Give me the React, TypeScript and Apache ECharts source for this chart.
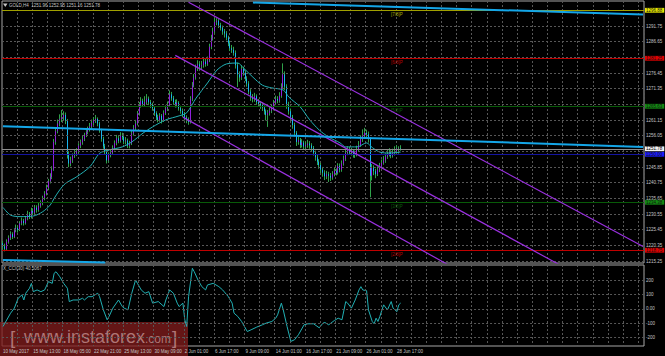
import React, { useEffect, useRef } from "react";
import * as echarts from "echarts";

const SLOTS = 339;
const timeLabels = ["10 May 2017", "15 May 13:00", "18 May 05:00", "22 May 21:00", "25 May 13:00", "30 May 09:00", "2 Jun 01:00", "6 Jun 17:00", "9 Jun 09:00", "14 Jun 01:00", "16 Jun 17:00", "21 Jun 09:00", "26 Jun 01:00", "28 Jun 17:00"];
const LABEL_STEP = 16;

const firstOpen = 1221.0;
const closes = [
  1220.0, 1219.2, 1221.5, 1222.8, 1224.0, 1223.1, 1225.2, 1226.0, 1225.4, 1227.5,
  1228.3, 1227.6, 1229.0, 1230.4, 1229.8, 1231.5, 1231.0, 1232.6, 1231.9, 1233.2,
  1234.0, 1235.8, 1237.1, 1239.0, 1241.2, 1242.6, 1245.0, 1254.0, 1257.5, 1260.0,
  1261.4, 1262.0, 1262.8, 1261.0, 1250.0, 1247.0, 1248.0, 1249.5, 1250.2, 1251.0,
  1252.8, 1253.9, 1255.0, 1256.2, 1257.3, 1258.1, 1259.0, 1260.2, 1261.0, 1261.5,
  1260.0, 1257.8, 1255.0, 1252.6, 1251.0, 1248.0, 1249.8, 1250.5, 1252.0, 1253.6,
  1255.2, 1254.4, 1256.0, 1255.6, 1254.2, 1254.5, 1252.8, 1253.5, 1256.8, 1258.6,
  1260.0, 1263.2, 1266.0, 1267.4, 1266.2, 1267.0, 1268.1, 1266.9, 1266.0, 1265.0,
  1263.4, 1262.0, 1261.2, 1262.5, 1261.0, 1263.4, 1264.8, 1266.0, 1269.5, 1268.2,
  1267.0, 1266.0, 1266.8, 1265.0, 1264.1, 1263.0, 1262.0, 1261.2, 1260.5, 1268.0,
  1272.4, 1275.0, 1278.0, 1279.3, 1278.6, 1279.0, 1280.2, 1279.4, 1280.5, 1285.0,
  1287.8, 1290.0, 1293.0, 1293.5, 1292.0, 1291.2, 1290.0, 1289.3, 1288.0, 1286.1,
  1284.5, 1284.0, 1283.0, 1279.0, 1276.0, 1275.0, 1277.8, 1276.5, 1274.6, 1273.0,
  1270.4, 1268.5, 1268.0, 1268.9, 1267.0, 1266.4, 1266.0, 1265.2, 1264.0, 1262.8,
  1263.5, 1264.2, 1265.0, 1266.8, 1268.0, 1267.5, 1269.0, 1272.0, 1276.0, 1272.0,
  1266.0, 1264.0, 1262.0, 1259.5, 1257.0, 1254.0, 1254.6, 1253.0, 1253.8, 1252.5,
  1253.0, 1253.5, 1252.9, 1252.0, 1250.5, 1249.0, 1247.6, 1246.5, 1245.0, 1244.0,
  1242.8, 1243.5, 1243.0, 1242.4, 1243.5, 1244.6, 1244.0, 1246.2, 1245.0, 1247.0,
  1248.5, 1250.4, 1251.5, 1250.6, 1251.0, 1249.8, 1250.0, 1251.6, 1253.0, 1254.8,
  1256.0, 1257.0, 1256.5, 1255.0, 1243.0, 1245.6, 1244.5, 1243.5, 1245.0, 1246.0,
  1247.2, 1248.0, 1249.2, 1250.0, 1250.6, 1249.5, 1250.4, 1251.0, 1251.9, 1251.96,
  1251.78,
];
const highs = [
  1221.8, 1220.9, 1222.3, 1223.6, 1224.9, 1224.6, 1225.9, 1227.1, 1226.8, 1228.2,
  1229.4, 1229.0, 1229.9, 1231.6, 1231.2, 1232.6, 1232.4, 1233.5, 1233.4, 1234.1,
  1235.0, 1236.5, 1238.0, 1240.1, 1242.0, 1243.8, 1246.1, 1255.0, 1258.6, 1261.3,
  1263.0, 1264.4, 1264.0, 1263.6, 1261.5, 1251.0, 1249.2, 1250.3, 1251.4, 1252.0,
  1253.6, 1254.8, 1256.2, 1257.0, 1258.4, 1259.0, 1260.2, 1261.3, 1262.1, 1262.8,
  1262.0, 1260.6, 1258.3, 1255.7, 1253.4, 1251.8, 1250.6, 1251.7, 1252.9, 1254.5,
  1256.3, 1256.0, 1257.2, 1257.0, 1256.3, 1255.6, 1255.1, 1254.4, 1257.6, 1259.5,
  1261.2, 1264.1, 1267.0, 1268.6, 1268.1, 1268.9, 1269.6, 1268.8, 1267.7, 1266.8,
  1265.6, 1264.0, 1262.9, 1263.4, 1263.1, 1264.3, 1265.9, 1267.2, 1270.8, 1270.3,
  1269.0, 1267.8, 1267.9, 1267.3, 1265.8, 1264.9, 1263.8, 1262.7, 1262.0, 1268.9,
  1273.5, 1276.1, 1279.2, 1280.6, 1280.2, 1280.4, 1281.3, 1281.0, 1281.8, 1286.0,
  1288.9, 1291.2, 1294.4, 1294.3, 1294.0, 1292.8, 1291.9, 1290.8, 1290.1, 1288.6,
  1287.0, 1285.6, 1285.0, 1283.8, 1279.8, 1277.0, 1278.9, 1278.5, 1277.3, 1275.4,
  1273.8, 1271.2, 1269.6, 1270.0, 1269.5, 1268.0, 1267.3, 1266.9, 1265.9, 1264.6,
  1264.4, 1265.3, 1266.1, 1267.7, 1269.1, 1268.9, 1270.2, 1273.1, 1279.6, 1277.0,
  1272.8, 1267.1, 1264.9, 1262.8, 1260.3, 1257.6, 1255.8, 1255.3, 1254.9, 1254.4,
  1254.0, 1254.7, 1254.3, 1253.6, 1252.7, 1251.2, 1249.8, 1248.4, 1247.2, 1245.9,
  1244.8, 1244.6, 1244.3, 1243.9, 1244.5, 1245.7, 1245.4, 1247.1, 1247.0, 1248.0,
  1249.6, 1251.5, 1252.6, 1252.4, 1252.1, 1251.7, 1251.2, 1252.8, 1254.3, 1256.2,
  1258.1, 1258.6, 1258.0, 1257.4, 1255.6, 1246.8, 1246.4, 1245.3, 1246.1, 1247.2,
  1248.3, 1249.4, 1250.3, 1251.4, 1252.0, 1251.3, 1251.8, 1252.6, 1253.0, 1252.6,
  1252.95,
];
const lows = [
  1218.9, 1218.4, 1218.8, 1220.9, 1222.1, 1222.4, 1222.7, 1224.6, 1224.5, 1225.0,
  1226.9, 1226.8, 1227.1, 1228.5, 1228.9, 1229.1, 1230.2, 1230.4, 1231.0, 1231.3,
  1232.6, 1233.4, 1235.0, 1236.6, 1238.3, 1240.5, 1241.9, 1244.6, 1253.1, 1256.8,
  1259.1, 1260.5, 1261.1, 1259.8, 1248.6, 1245.8, 1246.1, 1247.2, 1248.8, 1249.4,
  1250.3, 1252.0, 1253.1, 1254.3, 1255.6, 1256.5, 1257.4, 1258.3, 1259.5, 1260.2,
  1259.1, 1257.0, 1254.1, 1251.8, 1249.9, 1247.0, 1247.3, 1249.0, 1249.8, 1251.3,
  1252.9, 1253.6, 1253.8, 1254.7, 1253.3, 1253.2, 1252.0, 1251.9, 1253.0, 1256.1,
  1257.9, 1259.4, 1262.6, 1265.2, 1265.4, 1265.5, 1266.3, 1266.0, 1265.1, 1264.2,
  1262.5, 1261.1, 1260.4, 1260.6, 1260.0, 1260.5, 1262.8, 1264.1, 1265.6, 1267.4,
  1266.1, 1265.2, 1265.3, 1264.2, 1263.2, 1262.1, 1261.0, 1260.1, 1259.6, 1260.0,
  1267.3, 1271.8, 1274.3, 1277.1, 1277.4, 1277.6, 1278.2, 1278.5, 1278.8, 1280.0,
  1284.2, 1287.0, 1289.3, 1292.0, 1291.1, 1290.3, 1288.9, 1288.0, 1287.1, 1285.2,
  1283.6, 1283.0, 1282.1, 1277.9, 1271.9, 1273.6, 1274.2, 1275.6, 1273.8, 1272.0,
  1269.5, 1267.4, 1266.9, 1267.1, 1266.1, 1265.4, 1264.8, 1264.1, 1262.9, 1261.0,
  1258.9, 1262.6, 1263.4, 1264.3, 1266.0, 1266.6, 1266.8, 1268.4, 1271.3, 1270.9,
  1264.8, 1262.9, 1260.7, 1258.3, 1255.8, 1252.7, 1253.1, 1252.0, 1252.2, 1251.4,
  1251.6, 1252.1, 1251.8, 1250.9, 1249.6, 1247.9, 1246.5, 1245.3, 1243.9, 1242.7,
  1241.6, 1241.9, 1241.0, 1241.3, 1241.7, 1242.8, 1243.1, 1243.4, 1244.1, 1244.3,
  1246.3, 1247.8, 1249.7, 1249.8, 1249.6, 1248.9, 1248.8, 1249.3, 1250.9, 1252.4,
  1254.0, 1255.1, 1255.4, 1253.8, 1236.0, 1241.5, 1243.2, 1242.2, 1242.9, 1244.2,
  1245.4, 1246.6, 1247.2, 1248.5, 1249.3, 1248.7, 1248.9, 1249.6, 1250.3, 1250.2,
  1251.16,
];

// moving average, read at bar indices
const maPoints = [
  [0, 1232.7], [4, 1230.2], [9, 1229.7], [16, 1229.9], [21, 1231.3], [25, 1233.5], [27, 1235.6], [30, 1238.4],
  [33, 1240.5], [39, 1242.7], [46, 1246.0], [51, 1250.3], [56, 1251.4], [63, 1252.4], [68, 1254.0], [74, 1256.9],
  [79, 1258.9], [86, 1261.2], [93, 1262.5], [97, 1263.5], [102, 1268.3], [108, 1273.2], [113, 1277.4], [118, 1279.4],
  [124, 1279.7], [127, 1278.1], [132, 1275.1], [137, 1272.5], [142, 1271.6], [148, 1270.9], [151, 1268.6], [157, 1265.4],
  [162, 1261.2], [167, 1257.9], [172, 1255.6], [178, 1253.7], [181, 1252.4], [187, 1252.4], [192, 1253.7], [195, 1252.2],
  [199, 1250.7], [204, 1250.4], [210, 1250.7],
];

// CCI(30), read at bar indices
const cciPoints = [
  [0, -123], [4, -30], [6, 5], [8, 74], [10, 97], [11, 62], [12, 109], [14, 144], [15, 178], [16, 120],
  [18, 132], [20, 120], [22, 132], [24, 190], [26, 178], [27, 248], [28, 259], [30, 224], [32, 178], [34, 144],
  [35, 51], [37, 62], [40, 62], [42, 74], [43, 62], [45, 85], [47, 85], [50, 109], [51, 85], [53, -7],
  [55, -76], [56, -53], [58, 5], [61, 62], [63, 16], [64, 5], [66, -7], [68, 109], [70, 201], [71, 178],
  [73, 132], [75, 109], [77, 120], [79, 40], [82, 51], [85, 16], [86, 62], [88, 132], [90, 109], [92, 40],
  [93, 16], [95, 40], [96, -76], [97, -123], [98, 85], [100, 283], [101, 259], [103, 201], [105, 155], [107, 132],
  [108, 167], [111, 178], [114, 155], [116, 132], [119, 85], [121, 40], [122, -30], [124, -53], [126, -88], [129, -158],
  [131, -146], [134, -127], [137, -111], [139, -99], [142, -88], [144, -65], [145, -42], [147, 40], [148, -7], [150, -123],
  [152, -227], [154, -215], [156, -181], [159, -111], [161, -104], [164, -104], [167, -132], [169, -99], [170, -95], [172, -111],
  [175, -81], [177, -65], [179, -76], [181, 51], [182, 40], [184, 5], [186, 62], [188, 132], [189, 155], [190, 132],
  [192, 127], [193, -7], [195, -88], [196, -104], [197, -65], [198, -88], [199, -53], [201, 28], [203, -7], [205, 51],
  [206, 5], [208, -19], [209, 28], [210, 40.5067],
];

const priceTicks = [1291.75, 1286.65, 1281.55, 1276.45, 1271.35, 1266.25, 1261.15, 1256.05, 1250.95, 1245.85, 1240.75, 1235.65, 1230.55, 1225.45, 1220.35, 1215.25];
// tick labels that sit under a level's price box in the reference
const coveredTickLabels = [1281.55, 1266.25, 1250.95];
const cciGridValues = [200, 100, 0, -100, -200];
const cciLabelValues = [305.9866, 250, 200, 100, 0, -100, -200, -258.9603];
const cciLabelTexts = ["305.9866", "250", "200", "100", "0.00", "-100", "-200", "-258.9603"];

const levelValues = [1296.875, 1281.25, 1265.625, 1250.0, 1234.375, 1218.75];
const levelLineColors = ["#a0a000", "#c00000", "#085a08", "#1414a0", "#085a08", "#c00000"];
const levelBoxColors = ["#e8e800", "#e00000", "#128a12", "#1c1cff", "#128a12", "#e00000"];
const levelTags = ["[7/8]P", "[6/8]P", "[5/8]P", "", "[3/8]P", "[2/8]P"];
const levelTagColors = ["#a8a800", "#b80000", "#0a5a0a", "#1616a8", "#0a5a0a", "#b80000"];
const TAG_BAR = 208;
const lastPrice = 1251.78;

// trend lines: [barIndex, price] end points
const channelUpper = [[98, 1299.5], [338, 1220.0]];
const channelMiddle = [[91, 1282.2], [338, 1199.2]];
const channelLower = [[95, 1262.1], [338, 1178.7]];
const cyanTop = [[132, 1299.4], [338, 1295.5]];
const cyanMid = [[0, 1259.1], [338, 1252.4]];
const cyanLow = [[0, 1215.6], [54, 1214.8]];

const PRICE_MIN = 1214.6;
const PRICE_MAX = 1299.9;
const CCI_MIN = -258.9603;
const CCI_MAX = 305.9866;

const FONT = "Liberation Sans";
const TXT = "#c4c4c4";
const GRIDC = "#575757";

function buildOption() {
  const cats = Array.from({ length: SLOTS }, (_, i) => String(i));
  const opens = closes.map((c, i) => (i === 0 ? firstOpen : closes[i - 1]));
  const wickData = closes.map((c, i) => [opens[i], c, lows[i], highs[i]]);
  const bodyData = closes.map((c, i) => [opens[i], c, Math.min(opens[i], c), Math.max(opens[i], c)]);

  const xCommon = {
    type: "category",
    data: cats,
    boundaryGap: true,
    axisLine: { show: false },
    axisTick: { show: false },
    splitLine: {
      show: true,
      interval: (i: number) => i % 8 === 0 && i > 0,
      lineStyle: { color: GRIDC, type: [2, 2], width: 1 },
    },
  };

  const trend = (pts: number[][], color: string, width: number, z: number) => ({
    type: "line",
    xAxisIndex: 0,
    yAxisIndex: 0,
    data: pts,
    symbol: "none",
    silent: true,
    clip: true,
    z,
    lineStyle: { color, width },
  });

  const boxLabel = (text: string, bg: string, fg: string) => ({
    show: true,
    position: "end",
    distance: 1,
    formatter: () => text,
    backgroundColor: bg,
    color: fg,
    fontSize: 4.5,
    lineHeight: 4.6,
    fontFamily: FONT,
    padding: [0.2, 2, 0, 1],
  });

  const levelLines: any[] = levelValues.map((v, i) => ({
    yAxis: v,
    lineStyle: { color: levelLineColors[i], width: 1, type: "solid" },
    label: boxLabel(v.toFixed(2), levelBoxColors[i], "#111"),
  }));
  levelLines.push({
    yAxis: lastPrice,
    lineStyle: { color: "#8c8c8c", width: 1, type: "solid" },
    label: boxLabel(lastPrice.toFixed(2), "#f2f2f2", "#000"),
  });

  const tagPoints = levelValues
    .map((v, i) => ({ v, i }))
    .filter((o) => levelTags[o.i] !== "")
    .map((o) => ({
      coord: [TAG_BAR, o.v],
      symbol: "circle",
      symbolSize: 0.1,
      itemStyle: { color: "rgba(0,0,0,0)" },
      label: {
        show: true,
        position: "bottom",
        distance: 1.5,
        formatter: levelTags[o.i],
        color: levelTagColors[o.i],
        fontSize: 4.5,
        fontFamily: FONT,
      },
    }));

  return {
    animation: false,
    backgroundColor: "#000000",
    textStyle: { fontFamily: FONT },
    grid: [
      { left: 2, top: 1, width: 642, height: 262, show: true, borderColor: "#a6a6a6", borderWidth: 1, backgroundColor: "transparent" },
      { left: 2, top: 265, width: 642, height: 81, show: true, borderColor: "#a6a6a6", borderWidth: 1, backgroundColor: "transparent" },
    ],
    xAxis: [
      { ...xCommon, gridIndex: 0, axisLabel: { show: false } },
      {
        ...xCommon,
        gridIndex: 1,
        z: 5,
        axisLabel: {
          show: true,
          interval: (i: number) => i % LABEL_STEP === 0 && i / LABEL_STEP < timeLabels.length,
          formatter: (_v: string, i: number) => timeLabels[i / LABEL_STEP] || "",
          color: TXT,
          fontSize: 4.5,
          fontFamily: FONT,
          align: "left",
          margin: 3,
        },
      },
    ],
    yAxis: [
      { type: "value", gridIndex: 0, position: "right", min: PRICE_MIN, max: PRICE_MAX, axisLine: { show: false }, axisTick: { show: false }, axisLabel: { show: false }, splitLine: { show: false } },
      { type: "value", gridIndex: 1, position: "right", min: CCI_MIN, max: CCI_MAX, axisLine: { show: false }, axisTick: { show: false }, axisLabel: { show: false }, splitLine: { show: false } },
    ],
    graphic: [
      { type: "polygon", shape: { points: [[3, 3.5], [7.5, 3.5], [5.25, 7]] }, style: { fill: TXT }, z: 10 },
      { type: "text", x: 9, y: 5.5, style: { text: "GOLD,H4  1251.96 1252.95 1251.16 1251.78", fill: TXT, fontSize: 4.5, fontFamily: FONT, textVerticalAlign: "middle" }, z: 10 },
      { type: "text", x: 3, y: 268, style: { text: "X_CCI(30) 40.5067", fill: TXT, fontSize: 4.5, fontFamily: FONT, textVerticalAlign: "middle" }, z: 10 },
      { type: "rect", shape: { x: 0, y: 322, width: 188, height: 34 }, style: { fill: "rgba(128,28,28,0.78)" }, z: 1 },
      { type: "text", x: 10, y: 347, style: { text: "[", fill: "rgba(200,150,150,0.75)", fontSize: 19, fontFamily: FONT, textVerticalAlign: "bottom" }, z: 1 },
      { type: "text", x: 24, y: 346, style: { text: "www.instaforex", fill: "rgba(200,150,150,0.75)", fontSize: 18, fontFamily: FONT, textVerticalAlign: "bottom" }, z: 1 },
      { type: "text", x: 145, y: 345, style: { text: ".com", fill: "rgba(200,150,150,0.75)", fontSize: 12, fontFamily: FONT, textVerticalAlign: "bottom" }, z: 1 },
      { type: "text", x: 172, y: 347, style: { text: "]", fill: "rgba(200,150,150,0.75)", fontSize: 19, fontFamily: FONT, textVerticalAlign: "bottom" }, z: 1 },
    ],
    series: [
      {
        // price grid lines + labels
        type: "line",
        xAxisIndex: 0,
        yAxisIndex: 0,
        data: [],
        silent: true,
        z: 1,
        markLine: {
          silent: true,
          symbol: ["none", "none"],
          animation: false,
          lineStyle: { color: GRIDC, type: [2, 2], width: 1 },
          data: priceTicks.map((v) => ({
            yAxis: v,
            label: {
              show: coveredTickLabels.indexOf(v) < 0,
              position: "end",
              distance: 2,
              color: TXT,
              fontSize: 4.5,
              fontFamily: FONT,
              formatter: () => v.toFixed(2),
            },
          })),
        },
      },
      {
        type: "candlestick",
        xAxisIndex: 0,
        yAxisIndex: 0,
        data: wickData,
        barWidth: 1,
        silent: true,
        z: 2,
        itemStyle: { color: "#2fa24a", color0: "#2fa24a", borderColor: "#2fa24a", borderColor0: "#2fa24a", borderWidth: 1 },
      },
      {
        type: "candlestick",
        xAxisIndex: 0,
        yAxisIndex: 0,
        data: bodyData,
        barWidth: 1,
        silent: true,
        z: 3,
        itemStyle: { color: "#9020dc", color0: "#18b4ee", borderColor: "#9020dc", borderColor0: "#18b4ee", borderWidth: 1 },
      },
      {
        type: "line",
        xAxisIndex: 0,
        yAxisIndex: 0,
        data: maPoints,
        symbol: "none",
        smooth: 0.3,
        silent: true,
        z: 4,
        lineStyle: { color: "#22b0b4", width: 1 },
      },
      {
        // horizontal levels + price boxes + tags
        type: "line",
        xAxisIndex: 0,
        yAxisIndex: 0,
        data: [],
        silent: true,
        z: 5,
        markLine: { silent: true, symbol: ["none", "none"], animation: false, data: levelLines },
        markPoint: { silent: true, animation: false, data: tagPoints },
      },
      trend(channelUpper, "#9a30e0", 1.2, 6),
      trend(channelMiddle, "#9a30e0", 1.2, 6),
      trend(channelLower, "#9a30e0", 1.2, 6),
      trend(cyanTop, "#14a6e8", 2, 6),
      trend(cyanMid, "#14a6e8", 2, 6),
      trend(cyanLow, "#14a6e8", 2, 6),
      {
        type: "line",
        xAxisIndex: 1,
        yAxisIndex: 1,
        data: cciPoints,
        symbol: "none",
        silent: true,
        z: 3,
        lineStyle: { color: "#22b0b4", width: 1 },
        markLine: {
          silent: true,
          symbol: ["none", "none"],
          animation: false,
          data: cciLabelValues.map((v, i) => ({
            yAxis: v,
            lineStyle: { color: GRIDC, type: [2, 2], width: 1, opacity: cciGridValues.indexOf(v) >= 0 ? 1 : 0 },
            label: {
              show: true,
              position: "end",
              distance: 2,
              color: TXT,
              fontSize: 4.5,
              fontFamily: FONT,
              formatter: () => cciLabelTexts[i],
              padding: i === 0 ? [4, 0, 0, 0] : i === cciLabelValues.length - 1 ? [0, 0, 2, 0] : 0,
            },
          })),
        },
      },
    ],
  };
}

export default function App() {
  const ref = useRef<HTMLDivElement>(null);
  useEffect(() => {
    if (!ref.current) return;
    const chart = echarts.init(ref.current, undefined, { renderer: "svg" });
    chart.setOption(buildOption() as any);
    return () => chart.dispose();
  }, []);
  return (
    <div
      ref={ref}
      style={{ position: "fixed", left: 0, top: 0, width: 665, height: 356, background: "#000" }}
    />
  );
}
